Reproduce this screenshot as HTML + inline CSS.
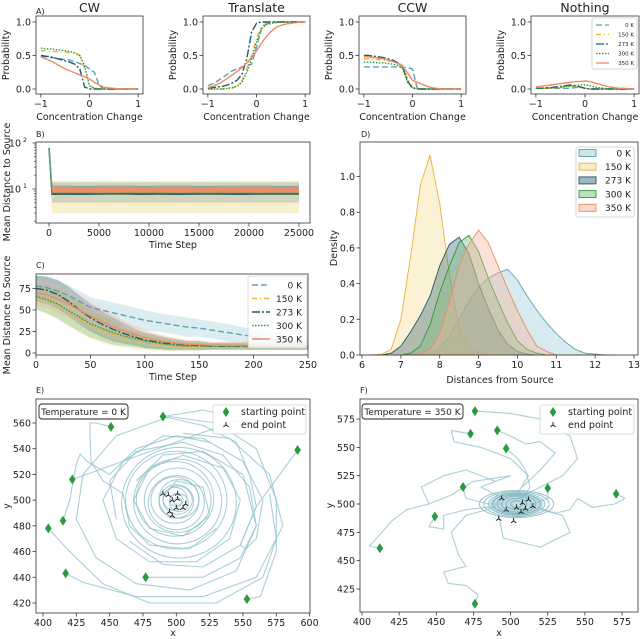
<!DOCTYPE html>
<html><head><meta charset="utf-8"><style>
html,body{margin:0;padding:0;background:#fff;}
svg{display:block;font-family:"DejaVu Sans","Liberation Sans",sans-serif;}
</style></head><body>
<svg id="fig" width="640" height="639" viewBox="0 0 640 639" xmlns="http://www.w3.org/2000/svg"></svg>
<script>
// ---------- DATA ----------
const temps = ['0 K','150 K','273 K','300 K','350 K'];
const aX = [-1,-0.9,-0.8,-0.7,-0.6,-0.5,-0.4,-0.3,-0.2,-0.1,0,0.1,0.2,0.3,0.4,0.5,0.6,0.7,0.8,0.9,1];
const cw0 = [0.49,0.48,0.47,0.46,0.45,0.44,0.43,0.41,0.38,0.35,0.30,0.25,0.05,0,0,0,0,0,0,0,0];
const cw150 = [0.57,0.57,0.56,0.56,0.55,0.55,0.54,0.53,0.50,0.30,0.05,0.01,0,0,0,0,0,0,0,0,0];
const cw273 = [0.50,0.49,0.48,0.46,0.44,0.42,0.40,0.37,0.30,0.03,0,0,0,0,0,0,0,0,0,0,0];
const cw300 = [0.61,0.60,0.60,0.59,0.58,0.57,0.56,0.54,0.50,0.35,0.05,0.01,0,0,0,0,0,0,0,0,0];
const cw350 = [0.48,0.45,0.42,0.38,0.34,0.30,0.27,0.24,0.21,0.18,0.15,0.10,0.06,0.03,0.015,0.01,0,0,0,0,0];
const tr0 = [0.05,0.08,0.12,0.17,0.22,0.27,0.30,0.33,0.35,0.37,0.62,0.90,0.97,0.99,1,1,1,1,1,1,1];
const tr150 = [0,0,0,0,0,0.01,0.05,0.12,0.30,0.50,0.75,0.93,0.98,1,1,1,1,1,1,1,1];
const tr273 = [0.02,0.02,0.03,0.04,0.06,0.09,0.13,0.22,0.45,0.85,0.98,1,1,1,1,1,1,1,1,1,1];
const tr300 = [0,0,0,0,0.01,0.02,0.04,0.10,0.25,0.45,0.70,0.90,0.96,0.98,0.99,1,1,1,1,1,1];
const tr350 = [0.02,0.04,0.07,0.11,0.16,0.21,0.26,0.32,0.39,0.47,0.57,0.68,0.78,0.86,0.92,0.95,0.97,0.98,0.99,1,1];
const ccw0 = [0.33,0.33,0.33,0.33,0.33,0.33,0.33,0.33,0.32,0.32,0.30,0,0,0,0,0,0,0,0,0,0];
const ccw150 = [0.45,0.45,0.44,0.44,0.43,0.42,0.41,0.39,0.35,0.15,0.02,0,0,0,0,0,0,0,0,0,0];
const ccw273 = [0.50,0.50,0.49,0.48,0.47,0.45,0.43,0.39,0.32,0.12,0.01,0,0,0,0,0,0,0,0,0,0];
const ccw300 = [0.40,0.40,0.40,0.39,0.39,0.38,0.37,0.35,0.30,0.10,0.02,0.01,0,0,0,0,0,0,0,0,0];
const ccw350 = [0.48,0.48,0.47,0.46,0.45,0.43,0.41,0.38,0.33,0.24,0.13,0.10,0.07,0.04,0.02,0.01,0,0,0,0,0];
const no0 = [0.01,0.01,0.01,0.01,0.01,0.01,0.01,0.01,0.02,0.03,0.01,0,0,0,0,0,0,0,0,0,0];
const no150 = [0.01,0.01,0.01,0.01,0.02,0.02,0.03,0.04,0.04,0.02,0.01,0,0,0,0,0,0,0,0,0,0];
const no273 = [0.01,0.01,0.02,0.02,0.03,0.04,0.05,0.06,0.05,0.03,0.01,0,0,0,0,0,0,0,0,0,0];
const no300 = [0.01,0.01,0.01,0.02,0.02,0.03,0.04,0.04,0.05,0.06,0.06,0.05,0.03,0.02,0.01,0,0,0,0,0,0];
const no350 = [0.03,0.04,0.05,0.06,0.07,0.08,0.09,0.10,0.11,0.11,0.12,0.11,0.09,0.07,0.05,0.03,0.02,0.01,0.01,0,0];
const aTitles = ['CW','Translate','CCW','Nothing'];
const aTickLabels = ['\u22121','0','1'];
const aTickVals = [-1,0,1];
const aYTickVals = [0,0.5,1];
const aYTickLabels = ['0.0','0.5','1.0'];

const bTimes = [0,150,300,600,1000,3000,5000,7000,9000,11000,13000,15000,17000,19000,21000,23000,25000];
const b0 = [80,30,12,11.5,11.6,11.4,11.5,11.6,11.4,11.5,11.6,11.4,11.5,11.5,11.6,11.4,11.5];
const b150 = [75,25,8,8,8,7.9,8,8.1,8,7.9,8,8,8.1,8,7.9,8,8];
const b273 = [78,27,7.8,7.7,7.8,7.7,7.8,7.9,7.7,7.8,7.7,7.8,7.8,7.7,7.8,7.8,7.8];
const b300 = [76,26,8.2,8.1,8.2,8.2,8.1,8.2,8.3,8.2,8.1,8.2,8.2,8.2,8.1,8.2,8.2];
const b350Lo = [70,22,8.3,8.3,8.3,8.3,8.3,8.3,8.3,8.3,8.3,8.3,8.3,8.3,8.3,8.3,8.3];
const b350Hi = [85,32,11.3,11.2,11.3,11.2,11.3,11.2,11.3,11.2,11.3,11.2,11.3,11.2,11.3,11.2,11.3];
const bYelLo = [55,12,3,3,3,3,3,3,3,3,3,3,3,3,3,3,3];
const bYelHi = [95,40,15,15,15,15,15,15,15,15,15,15,15,15,15,15,15];
const bGrnLo = [60,15,5,5,5,5,5,5,5,5,5,5,5,5,5,5,5];
const bGrnHi = [90,35,14,14,14,14,14,14,14,14,14,14,14,14,14,14,14];
const bXTicks = [0,5000,10000,15000,20000,25000];

const cTimes = [0,10,20,30,40,50,60,70,80,90,100,110,120,130,140,150,160,170,180,190,200,210,220,230,240,250];
const c0 = [78,76,72,67,60,53,50,47,44,41,38,36,34,32,30,29,27,25,23,21,19,17,15,13,11,10];
const c150 = [65,61,56,48,40,33,27,22,18,15,12,10,9,8,7,7,7,7,7,7,7,7,7,7,7,7];
const c273 = [75,73,68,60,50,41,34,28,23,19,15,13,11,10,9,9,8,8,8,8,8,8,8,8,8,8];
const c300 = [66,62,57,49,42,34,29,24,20,17,14,12,10,9,8,8,8,8,8,8,8,8,8,8,8,8];
const c350 = [70,68,63,57,50,43,37,31,26,22,18,15,13,11,10,10,9,9,9,9,9,9,9,9,9,9];
const cSd0 = [12,12,12,12,12,12,12,12,12,12,12,11,11,11,11,10,10,10,10,9,9,8,8,7,6,5];
const cSd = [15,16,17,17,17,16,15,14,12,10,9,8,7,6,5,5,4,4,4,4,4,4,4,4,4,4];
const cXTicks = [0,50,100,150,200,250];
const cYTicks = [0,25,50,75];

const dGrid = [6,6.25,6.5,6.75,7,7.25,7.5,7.75,8,8.25,8.5,8.75,9,9.25,9.5,9.75,10,10.25,10.5,10.75,11,11.25,11.5,11.75,12,12.25,12.5];
const d0 = [0,0,0,0,0,0,0,0.01,0.04,0.10,0.20,0.30,0.38,0.43,0.46,0.48,0.42,0.33,0.25,0.18,0.12,0.07,0.03,0.01,0.005,0,0];
const d150 = [0,0,0.005,0.03,0.20,0.55,0.95,1.12,0.85,0.45,0.15,0.04,0.01,0,0,0,0,0,0,0,0,0,0,0,0,0,0];
const d273 = [0,0,0,0.01,0.05,0.13,0.22,0.33,0.50,0.62,0.66,0.57,0.40,0.26,0.14,0.06,0.02,0.005,0,0,0,0,0,0,0,0,0];
const d300 = [0,0,0,0,0,0.01,0.05,0.17,0.35,0.50,0.63,0.67,0.58,0.43,0.30,0.18,0.08,0.03,0.01,0,0,0,0,0,0,0,0];
const d350 = [0,0,0,0,0,0,0.01,0.03,0.12,0.30,0.50,0.62,0.70,0.63,0.50,0.37,0.25,0.14,0.05,0.02,0,0,0,0,0,0,0];
const dXTicks = [6,7,8,9,10,11,12,13];
const dYTicks = [0,0.2,0.4,0.6,0.8,1.0];

const eStartX = [404,415,422,451,490,591,417,477,553];
const eStartY = [478,484,516,557,565,539,443,440,423];
const eEndX = [490,494,497,501,501,507,495,500,505,497];
const eEndY = [505,504,500,505,501,497,491,494,494,488];
const eTraj = [
 [[591,539],[560,495],[548,465],[552,462],[560,470],[565,500],[550,530],[520,548],[490,550],[460,530],[445,500],[455,470],[480,452],[515,452],[540,470],[548,500],[535,525],[505,535],[480,525],[468,500],[480,478],[505,472],[525,488],[520,510],[500,515],[490,502]],
 [[553,423],[563,425],[575,460],[575,500],[560,540],[530,560],[495,565],[455,550],[430,520],[425,485],[440,455],[470,435],[510,430],[545,445],[560,480],[550,520],[520,538],[490,535],[470,515]],
 [[417,443],[430,436],[470,425],[520,425],[560,440],[580,480],[570,520],[540,548],[505,552]],
 [[404,478],[420,460],[445,435],[480,420],[530,420],[565,440],[575,470],[570,505]],
 [[477,440],[520,440],[548,455],[560,480],[555,510],[535,535],[505,545],[470,538],[450,515],[455,485]],
 [[415,484],[420,500],[425,528],[428,536],[433,530],[450,520],[470,540],[500,550],[525,545]],
 [[422,516],[545,562],[555,560]],
 [[490,565],[520,570],[555,562]],
 [[451,557],[440,560],[435,560],[436,530],[445,515],[460,505],[465,480],[480,465],[510,462],[530,478]],
 [[490,565],[520,558],[545,545],[555,520],[560,495],[548,465],[520,448],[490,450],[465,468]]
];
const eRingR = [3,5,7,9,11,13,15,18,21,25,29,33,38,43];
const eRingCx = [501,500,502,499,501,500,502,499,500,501,499,501,500,502];
const eRingCy = [499,500,498,501,500,499,501,500,498,500,501,499,500,498];

const fStartX = [476,473,491,497,468,525,571,449,412,476];
const fStartY = [582,562,565,549,515,514,509,489,461,412];
const fEndX = [494,497,492,504,508,507,510,512,515,502];
const fEndY = [505,495,487,497,501,493,496,504,498,485];
const fTraj = [
 [[476,582],[500,580],[520,575],[540,560],[545,540],[535,525],[520,515],[505,505]],
 [[473,562],[460,565],[462,555],[480,550],[500,540],[512,525],[505,510]],
 [[491,565],[500,560],[510,553],[520,555],[530,545],[520,530],[508,515]],
 [[497,549],[505,540],[510,530],[513,515],[508,505]],
 [[468,515],[470,505],[485,500],[495,500]],
 [[525,514],[525,505],[515,500]],
 [[571,509],[577,505],[570,500],[555,497],[545,505],[540,495],[530,492],[518,497]],
 [[449,489],[445,480],[455,478],[455,490],[470,495],[490,498]],
 [[412,461],[405,463],[410,470],[420,485],[430,495],[445,500],[460,508],[475,520],[500,525],[480,515],[495,505]],
 [[476,412],[478,420],[470,428],[458,430],[455,440],[470,445],[465,455],[460,475],[470,490],[490,497]],
 [[492,490],[495,470],[520,462],[540,475],[535,490],[520,495]],
 [[445,500],[440,515],[455,525],[470,530],[490,520]]
];
const fRingRx = [4,7,10,13,16,19,22,25];
const fRingRy = [3,5,7,8,9,10,11,12];

// ---------- HELPERS ----------
const NS='http://www.w3.org/2000/svg';
const svg=document.getElementById('fig');
const COL=['#5aa2b8','#e9b33c','#1f5a68','#2e9a3e','#ee8a64'];
const FILL=['#9ccad8','#f4dc94','#3f6e78','#79bf7d','#f4b49c'];
const DASH=['6,3','5,3,1,3','8,2,2,2','1.5,1.5',''];
function mk(tag, attrs, parent, name){
  const el=document.createElementNS(NS,tag);
  for(const k in attrs) el.setAttribute(k,attrs[k]);
  
  
  (parent||svg).appendChild(el);
  return el;
}
function txt(x,y,s,size,anchor,parent,name,rot){
  const t=mk('text',{x:x,y:y,'font-size':size,'text-anchor':anchor||'middle',fill:'#222'},parent,name);
  if(rot) t.setAttribute('transform','rotate(-90 '+x+' '+y+')');
  t.textContent=s;
  return t;
}
function pts(xs,ys,fx,fy){return xs.map((v,i)=>fx(v).toFixed(1)+','+fy(ys[i]).toFixed(1)).join(' ');}
function frame(g,l,t,r,b,name){mk('rect',{x:l,y:t,width:r-l,height:b-t,fill:'none',stroke:'#333','stroke-width':0.8},g,name);}
function xticks(g,vals,labels,fx,b,name){vals.forEach((v,i)=>{const x=fx(v);mk('line',{x1:x,y1:b,x2:x,y2:b+3.5,stroke:'#333','stroke-width':0.8},g,name+'-tick');txt(x,b+13,labels[i],9.5,'middle',g,name+'-label');});}
function yticks(g,vals,labels,fy,l,name){vals.forEach((v,i)=>{const y=fy(v);mk('line',{x1:l-3.5,y1:y,x2:l,y2:y,stroke:'#333','stroke-width':0.8},g,name+'-tick');txt(l-5,y+3.5,labels[i],9.5,'end',g,name+'-label');});}
function clip(id,l,t,r,b){const d=mk('clipPath',{id:id},svg,'clip');mk('rect',{x:l,y:t,width:r-l,height:b-t},d,'clip-rect');}

// ---------- PANEL A ----------
const aSeries=[[cw0,cw150,cw273,cw300,cw350],[tr0,tr150,tr273,tr300,tr350],[ccw0,ccw150,ccw273,ccw300,ccw350],[no0,no150,no273,no300,no350]];
const aL=[36,203,359,531], aR=[143,310,466,639];
const aTop=16, aBot=94;
txt(36,14,'A)',8,'start',svg,'panel-a-label');
aSeries.forEach((ser,p)=>{
  const g=mk('g',{},svg,'panel-a-'+aTitles[p].toLowerCase());
  const l=aL[p], r=aR[p];
  const fx=v=>l+(v+1.1)/2.2*(r-l);
  const fy=v=>89-67*v;
  ser.forEach((ys,k)=>{
    mk('polyline',{points:pts(aX,ys,fx,fy),fill:'none',stroke:COL[k],'stroke-width':1.4,'stroke-dasharray':DASH[k]},g,'line-'+temps[k].replace(' ','').toLowerCase());
  });
  frame(g,l,aTop,r,aBot,'axes-frame');
  xticks(g,aTickVals,aTickLabels,fx,aBot,'x');
  yticks(g,aYTickVals,aYTickLabels,fy,l,'y');
  txt((l+r)/2,12,aTitles[p],12.5,'middle',g,'title');
  txt((l+r)/2,120,'Concentration Change',9.5,'middle',g,'x-axis-title');
  txt(l-27,55,'Probability',9.5,'middle',g,'y-axis-title',true);
});
// legend A
(function(){
  const g=mk('g',{},svg,'legend-a');
  mk('rect',{x:592,y:18,width:45,height:51,fill:'#fff',stroke:'#ccc','stroke-width':0.8,rx:2},g,'legend-box');
  temps.forEach((t,k)=>{const y=25+k*9.5;
    mk('line',{x1:596,y1:y,x2:609,y2:y,stroke:COL[k],'stroke-width':1.3,'stroke-dasharray':DASH[k]},g,'legend-line');
    txt(634,y+2.2,t,5.5,'end',g,'legend-label');});
})();

// ---------- PANEL B ----------
(function(){
  const g=mk('g',{},svg,'panel-b');
  const l=36,r=310,t=142,b=223;
  clip('cb',l,t,r,b);
  const fx=v=>49+v*0.01;
  const fy=v=>189-46*Math.log10(v/10);
  const gd=mk('g',{'clip-path':'url(#cb)'},g,'plot-area');
  function band(lo,hi,c,op,name){
    const p=pts(bTimes,hi,fx,fy)+' '+pts(bTimes.slice().reverse(),lo.slice().reverse(),fx,fy);
    mk('polygon',{points:p,fill:c,opacity:op},gd,name);
  }
  band(bYelLo,bYelHi,'#f4dc94',0.45,'band-150k');
  band(bGrnLo,bGrnHi,'#9fb8a0',0.45,'band-300k');
  mk('polyline',{points:pts(bTimes,b150,fx,fy),fill:'none',stroke:COL[1],'stroke-width':1.2},gd,'line-150k');
  mk('polyline',{points:pts(bTimes,b273,fx,fy),fill:'none',stroke:COL[2],'stroke-width':1.5},gd,'line-273k');
  mk('polyline',{points:pts(bTimes,b300,fx,fy),fill:'none',stroke:COL[3],'stroke-width':1.2},gd,'line-300k');
  band(b350Lo,b350Hi,COL[4],0.95,'band-350k');
  mk('polyline',{points:pts(bTimes,b0,fx,fy),fill:'none',stroke:COL[0],'stroke-width':1,opacity:0.8},gd,'line-0k');
  frame(g,l,t,r,b,'axes-frame');
  xticks(g,bXTicks,bXTicks.map(String),fx,b,'x');
  [100,10].forEach((v,i)=>{const y=fy(v);mk('line',{x1:l-3.5,y1:y,x2:l,y2:y,stroke:'#333','stroke-width':0.8},g,'y-tick');
    const tt=txt(l-15,y+3.5,'10',9.5,'end',g,'y-label');
    txt(l-9,y-1,i===0?'2':'1',6.5,'end',g,'y-label-exp');});
  [2,3,4,5,6,7,8,9,20,30,40,50,60,70,80,90].forEach(v=>{const y=fy(v);if(y>=t&&y<=b)mk('line',{x1:l-2,y1:y,x2:l,y2:y,stroke:'#333','stroke-width':0.6},g,'y-minor-tick');});
  txt(36,137,'B)',8,'start',g,'panel-label');
  txt(173,248,'Time Step',9.5,'middle',g,'x-axis-title');
  txt(10,182,'Mean Distance to Source',9.5,'middle',g,'y-axis-title',true);
})();

// ---------- PANEL C ----------
(function(){
  const g=mk('g',{},svg,'panel-c');
  const l=36,r=308,t=274,b=355;
  clip('cc',l,t,r,b);
  const fx=v=>36+v*272/250;
  const fy=v=>353-0.86*v;
  const gd=mk('g',{'clip-path':'url(#cc)'},g,'plot-area');
  const cS=[c0,c150,c273,c300,c350];
  cS.forEach((m,k)=>{const sd=k===0?cSd0:cSd;
    const hi=m.map((v,i)=>v+sd[i]), lo=m.map((v,i)=>Math.max(0,v-sd[i]));
    const p=pts(cTimes,hi,fx,fy)+' '+pts(cTimes.slice().reverse(),lo.slice().reverse(),fx,fy);
    mk('polygon',{points:p,fill:FILL[k],opacity:0.35},gd,'band-'+temps[k].replace(' ','').toLowerCase());});
  cS.forEach((m,k)=>{mk('polyline',{points:pts(cTimes,m,fx,fy),fill:'none',stroke:COL[k],'stroke-width':1.4,'stroke-dasharray':DASH[k]},gd,'line-'+temps[k].replace(' ','').toLowerCase());});
  frame(g,l,t,r,b,'axes-frame');
  xticks(g,cXTicks,cXTicks.map(String),fx,b,'x');
  yticks(g,cYTicks,cYTicks.map(String),fy,l,'y');
  const lg=mk('g',{},g,'legend-c');
  mk('rect',{x:248,y:276,width:59,height:72,fill:'#fff',opacity:0.85,stroke:'#ccc','stroke-width':0.8,rx:2},lg,'legend-box');
  temps.forEach((tt,k)=>{const y=285+k*13.5;
    mk('line',{x1:252,y1:y,x2:270,y2:y,stroke:COL[k],'stroke-width':1.4,'stroke-dasharray':DASH[k]},lg,'legend-line');
    txt(302,y+3.3,tt,9,'end',lg,'legend-label');});
  txt(36,268,'C)',8,'start',g,'panel-label');
  txt(173,380,'Time Step',9.5,'middle',g,'x-axis-title');
  txt(10,315,'Mean Distance to Source',9.5,'middle',g,'y-axis-title',true);
})();

// ---------- PANEL D ----------
(function(){
  const g=mk('g',{},svg,'panel-d');
  const l=360,r=638,t=142,b=355;
  const fx=v=>362+(v-6)*38.86;
  const fy=v=>355-178.5*v;
  const dS=[d0,d150,d273,d300,d350];
  dS.forEach((ys,k)=>{
    const p=fx(dGrid[0])+','+fy(0)+' '+pts(dGrid,ys,fx,fy)+' '+fx(dGrid[dGrid.length-1])+','+fy(0);
    mk('polygon',{points:p,fill:FILL[k],'fill-opacity':0.4,stroke:COL[k],'stroke-width':0.9,'stroke-linejoin':'round'},g,'density-'+temps[k].replace(' ','').toLowerCase());});
  frame(g,l,t,r,b,'axes-frame');
  xticks(g,dXTicks,dXTicks.map(String),fx,b,'x');
  yticks(g,dYTicks,dYTicks.map(v=>v.toFixed(1)),fy,l,'y');
  const lg=mk('g',{},g,'legend-d');
  mk('rect',{x:576,y:147,width:58,height:70,fill:'#fff',stroke:'#ccc','stroke-width':0.8,rx:2},lg,'legend-box');
  temps.forEach((tt,k)=>{const y=153+k*13.7;
    mk('rect',{x:579,y:y-3.5,width:17,height:7,fill:FILL[k],'fill-opacity':0.5,stroke:COL[k],'stroke-width':0.9},lg,'legend-swatch');
    txt(631,y+3.3,tt,9,'end',lg,'legend-label');});
  txt(361,137,'D)',8,'start',g,'panel-label');
  txt(500,383,'Distances from Source',9.5,'middle',g,'x-axis-title');
  txt(337,248,'Density',9.5,'middle',g,'y-axis-title',true);
})();

// ---------- PANELS E/F ----------
function diamond(g,x,y){mk('polygon',{points:(x)+','+(y-5)+' '+(x+3.3)+','+y+' '+x+','+(y+5)+' '+(x-3.3)+','+y,fill:'#2a9a3e'},g,'start-marker');}
function tri(g,x,y){const p='M'+x+','+y+' L'+x+','+(y-3)+' M'+x+','+y+' L'+(x-2.6)+','+(y+1.8)+' M'+x+','+y+' L'+(x+2.6)+','+(y+1.8);
  mk('path',{d:p,stroke:'#111','stroke-width':0.9,fill:'none'},g,'end-marker');}
function trajPanel(cfg){
  const g=mk('g',{},svg,cfg.name);
  const {l,t,r,b,fx,fy}=cfg;
  clip(cfg.cid,l,t,r,b);
  const gd=mk('g',{'clip-path':'url(#'+cfg.cid+')'},g,'plot-area');
  cfg.extra(gd);
  cfg.traj.forEach(tr=>{
    mk('polyline',{points:tr.map(p=>fx(p[0]).toFixed(1)+','+fy(p[1]).toFixed(1)).join(' '),fill:'none',stroke:'#8cc0cb','stroke-width':1.1,opacity:0.75,'stroke-linejoin':'round'},gd,'trajectory');});
  cfg.sx.forEach((v,i)=>diamond(gd,fx(v),fy(cfg.sy[i])));
  cfg.ex.forEach((v,i)=>tri(gd,fx(v),fy(cfg.ey[i])));
  frame(g,l,t,r,b,'axes-frame');
  xticks(g,cfg.xt,cfg.xt.map(String),fx,b,'x');
  yticks(g,cfg.yt,cfg.yt.map(String),fy,l,'y');
  txt(l,393,cfg.label,8,'start',g,'panel-label');
  txt((l+r)/2,636,'x',9.5,'middle',g,'x-axis-title');
  txt(cfg.ylx,(t+b)/2,'y',9.5,'middle',g,'y-axis-title',true);
  const tb=mk('g',{},g,'temperature-box');
  mk('rect',{x:cfg.tbx,y:404,width:cfg.tbw,height:15,rx:3,fill:'#fff',stroke:'#222','stroke-width':0.9},tb,'temperature-frame');
  txt(cfg.tbx+cfg.tbw/2,415,cfg.ttext,9,'middle',tb,'temperature-label');
  const lg=mk('g',{},g,'legend');
  mk('rect',{x:cfg.lgx,y:405,width:r-cfg.lgx-4,height:29,fill:'#fff',opacity:0.9,stroke:'#ccc','stroke-width':0.8,rx:2},lg,'legend-box');
  diamond(lg,cfg.lgx+13,412);
  tri(lg,cfg.lgx+13,425);
  txt(cfg.lgx+28,415,'starting point',9.5,'start',lg,'legend-label');
  txt(cfg.lgx+28,428,'end point',9.5,'start',lg,'legend-label');
}
trajPanel({name:'panel-e',cid:'ce',l:36,t:399,r:310,b:613,label:'E)',
  fx:v=>43+(v-400)*1.333, fy:v=>603-(v-420)*1.286,
  traj:eTraj,sx:eStartX,sy:eStartY,ex:eEndX,ey:eEndY,
  xt:[400,425,450,475,500,525,550,575,600],yt:[420,440,460,480,500,520,540,560],
  ylx:10,tbx:39,tbw:89,ttext:'Temperature = 0 K',lgx:213,
  extra:function(gd){
    const fx=v=>43+(v-400)*1.333, fy=v=>603-(v-420)*1.286;
    eRingR.forEach((rr,i)=>{mk('ellipse',{cx:fx(eRingCx[i]),cy:fy(eRingCy[i]),rx:rr*1.333,ry:rr*1.286,fill:'none',stroke:'#7fb6c2','stroke-width':1,opacity:0.7},gd,'spiral-ring');});
  }});
trajPanel({name:'panel-f',cid:'cf',l:360,t:399,r:638,b:612,label:'F)',
  fx:v=>362+(v-400)*1.486, fy:v=>589-(v-425)*1.133,
  traj:fTraj,sx:fStartX,sy:fStartY,ex:fEndX,ey:fEndY,
  xt:[400,425,450,475,500,525,550,575],yt:[425,450,475,500,525,550,575],
  ylx:333,tbx:362,tbw:101,ttext:'Temperature = 350 K',lgx:540,
  extra:function(gd){
    const fx=v=>362+(v-400)*1.486, fy=v=>589-(v-425)*1.133;
    mk('ellipse',{cx:fx(504),cy:fy(500),rx:18*1.486,ry:10*1.133,fill:'#8ec0cb',opacity:0.55},gd,'dense-cluster');
    fRingRx.forEach((rx,i)=>{mk('ellipse',{cx:fx(504),cy:fy(500),rx:rx*1.486,ry:fRingRy[i]*1.133,fill:'none',stroke:'#5e9fae','stroke-width':0.9,opacity:0.7},gd,'cluster-ring');});
  }});
</script>
</body></html>
